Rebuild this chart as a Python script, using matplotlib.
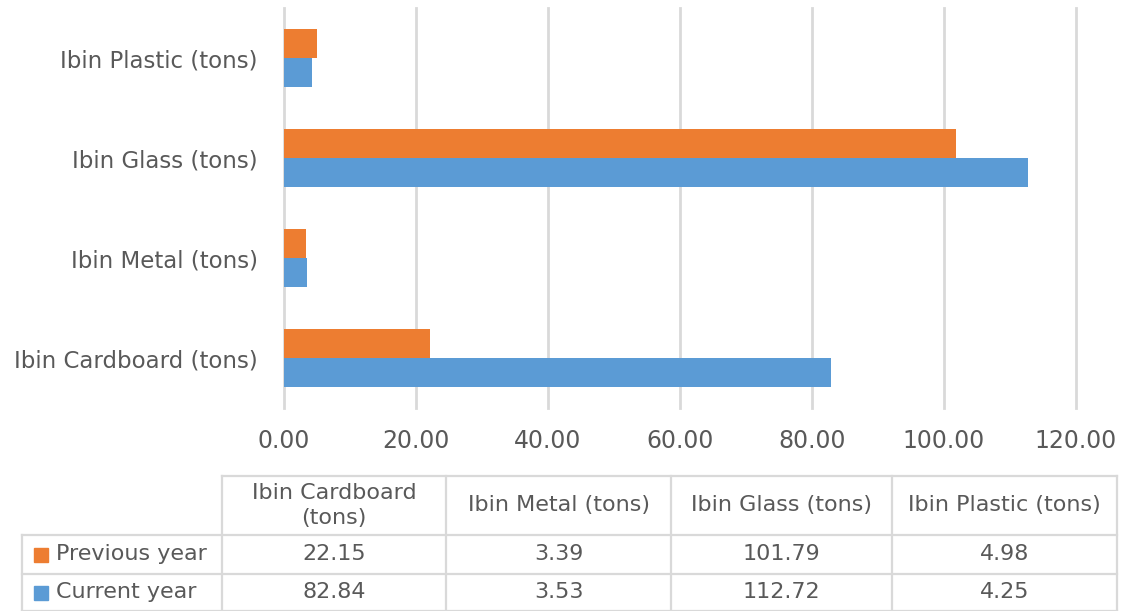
"""
Ibin tonnage: previous vs current year, bar chart with data table
"""

import matplotlib
matplotlib.use("Agg")
import matplotlib.pyplot as plt
from matplotlib.lines import Line2D
from matplotlib.patches import Rectangle

categories = ["Ibin Cardboard (tons)", "Ibin Metal (tons)",
              "Ibin Glass (tons)", "Ibin Plastic (tons)"]
table_headers = ["Ibin Cardboard\n(tons)", "Ibin Metal (tons)",
                 "Ibin Glass (tons)", "Ibin Plastic (tons)"]
previous_year = [22.15, 3.39, 101.79, 4.98]
current_year = [82.84, 3.53, 112.72, 4.25]
series_names = ["Previous year", "Current year"]
x_ticks = [0, 20, 40, 60, 80, 100, 120]

ORANGE = "#ED7D31"
BLUE = "#5B9BD5"
TEXT = "#595959"
GRID = "#D9D9D9"

W, H = 1124, 611
plt.rcParams["font.family"] = ["DejaVu Sans"]

fig = plt.figure(figsize=(W / 100, H / 100), dpi=100)


def fx(px):
    return px / W


def fy(py):
    return 1 - py / H


# plot area in pixel terms (left, top, right, bottom)
ax = fig.add_axes([fx(284), fy(408), fx(1076) - fx(284), fy(8) - fy(408)])
ypos = list(range(len(categories)))
bar_h = 0.29
ax.barh([y + bar_h / 2 for y in ypos], previous_year, height=bar_h,
        color=ORANGE, zorder=3)
ax.barh([y - bar_h / 2 for y in ypos], current_year, height=bar_h,
        color=BLUE, zorder=3)

ax.set_xlim(0, 120)
ax.set_ylim(-0.5, len(categories) - 0.5)
ax.set_xticks(x_ticks)
ax.set_xticklabels([f"{v:.2f}" for v in x_ticks])
ax.set_yticks(ypos)
ax.set_yticklabels(categories)
ax.tick_params(axis="both", length=0, colors=TEXT)
ax.tick_params(axis="x", pad=15, labelsize=17)
ax.tick_params(axis="y", pad=19, labelsize=16.5)
ax.grid(axis="x", color=GRID, linewidth=2, zorder=0)
for gl in ax.get_xgridlines():
    gl.set_clip_on(False)
for s in ax.spines.values():
    s.set_visible(False)

# data table below the chart
col_edges = [222, 446, 671, 892, 1117]
row_edges = [476, 535, 574, 611]
label_left = 22
lw = 1.6
tsize = 16


def hline(y, x0, x1):
    fig.add_artist(Line2D([fx(x0), fx(x1)], [fy(y), fy(y)],
                          color=GRID, linewidth=lw))


def vline(x, y0, y1):
    fig.add_artist(Line2D([fx(x), fx(x)], [fy(y0), fy(y1)],
                          color=GRID, linewidth=lw))


hline(row_edges[0], col_edges[0], col_edges[-1])
for y in row_edges[1:]:
    hline(y, label_left, col_edges[-1])
for x in col_edges:
    vline(x, row_edges[0], row_edges[-1])
vline(label_left, row_edges[1], row_edges[-1])

for i, head in enumerate(table_headers):
    cx = (col_edges[i] + col_edges[i + 1]) / 2
    cy = (row_edges[0] + row_edges[1]) / 2
    fig.text(fx(cx), fy(cy), head, ha="center", va="center",
             fontsize=tsize, color=TEXT, linespacing=1.3)

for r, (name, vals, colr) in enumerate(zip(series_names,
                                          [previous_year, current_year],
                                          [ORANGE, BLUE])):
    cy = (row_edges[r + 1] + row_edges[r + 2]) / 2
    fig.add_artist(Rectangle((fx(34), fy(cy + 7)), fx(14), fy(0) - fy(14),
                             color=colr, transform=fig.transFigure))
    fig.text(fx(56), fy(cy), name, ha="left", va="center",
             fontsize=tsize, color=TEXT)
    for i, v in enumerate(vals):
        cx = (col_edges[i] + col_edges[i + 1]) / 2
        fig.text(fx(cx), fy(cy), f"{v:.2f}", ha="center", va="center",
                 fontsize=tsize, color=TEXT)

fig.savefig("out.png", dpi=100)
